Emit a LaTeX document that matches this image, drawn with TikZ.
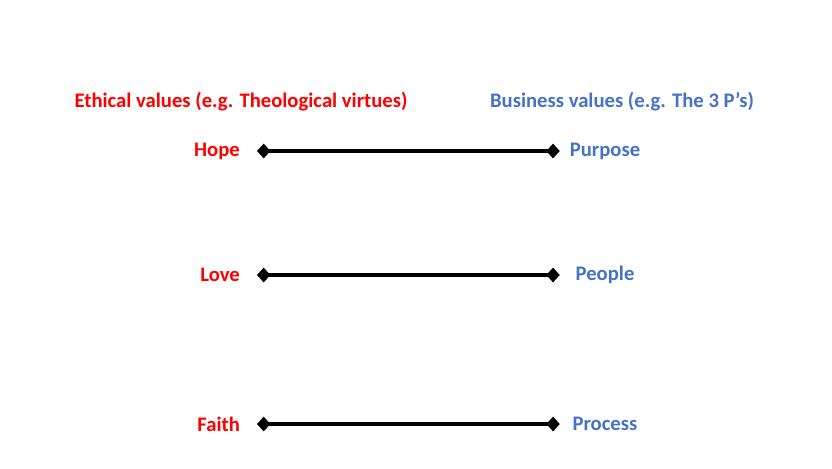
\documentclass[tikz,border=0pt]{standalone}
\usepackage{fontspec}
\setmainfont{Carlito}
\usepackage{tikz}
\usetikzlibrary{arrows.meta}
\definecolor{ethicred}{HTML}{FF0000}
\definecolor{bizblue}{HTML}{4472C4}

\begin{document}
\begin{tikzpicture}[x=0.025cm, y=-0.025cm, every node/.style={font=\bfseries\fontsize{14.7}{17}\selectfont}]
  \useasboundingbox (0,0) rectangle (832,468);

  % Headers
  \node[text=ethicred] (ethics) at (241, 102) {Ethical values (e.g. Theological virtues)};
  \node[text=bizblue] (business) at (622, 102) {Business values (e.g. The 3 P’s)};

  % Ethical values
  \node[text=ethicred, anchor=east, inner xsep=12pt] (hope) at (257, 151) {Hope};
  \node[text=ethicred, anchor=east, inner xsep=12pt] (love) at (257, 275) {Love};
  \node[text=ethicred, anchor=east, inner xsep=12pt] (faith) at (257, 424) {Faith};

  % Business values
  \node[text=bizblue, text width=56pt, align=center, inner xsep=4pt] (purpose) at (605, 151) {Purpose};
  \node[text=bizblue, text width=56pt, align=center, inner xsep=4pt] (people) at (605, 275) {People};
  \node[text=bizblue, text width=56pt, align=center, inner xsep=4pt] (process) at (605, 424) {Process};

  % Links
  \draw[line width=3pt, {Diamond[length=9.5pt,width=10.5pt]}-{Diamond[length=9.5pt,width=10.5pt]}] (hope) -- (purpose);
  \draw[line width=3pt, {Diamond[length=9.5pt,width=10.5pt]}-{Diamond[length=9.5pt,width=10.5pt]}] (love) -- (people);
  \draw[line width=3pt, {Diamond[length=9.5pt,width=10.5pt]}-{Diamond[length=9.5pt,width=10.5pt]}] (faith) -- (process);
\end{tikzpicture}
\end{document}
